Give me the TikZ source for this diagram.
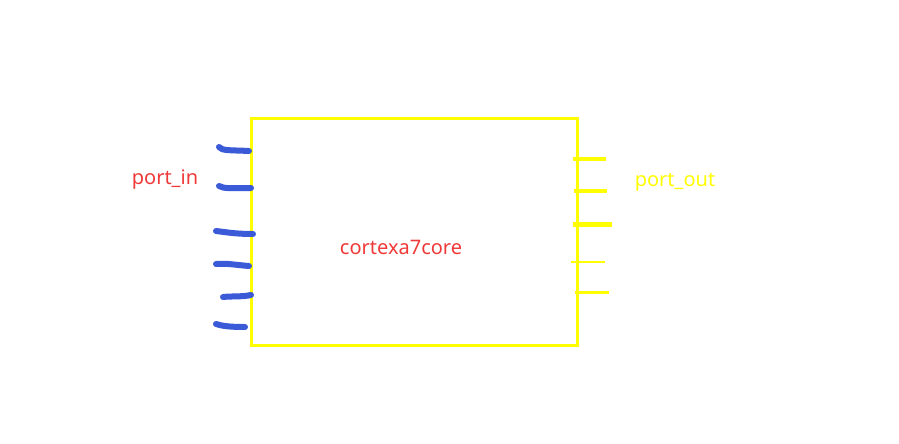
\documentclass[tikz,border=0pt]{standalone}
\usepackage{fontspec}
\setmainfont{Noto Sans}
\definecolor{boxyellow}{HTML}{FFFF00}
\definecolor{labelred}{HTML}{F03A3A}
\definecolor{penblue}{HTML}{3A5AD8}
\begin{document}
\begin{tikzpicture}[x=1pt,y=-1pt,
  core/.style={draw=boxyellow,line width=3pt},
  inport/.style={draw=penblue,line width=6pt,line cap=round},
  outport/.style={draw=boxyellow,line width=#1},
  lbl/.style={font=\fontsize{20}{24}\selectfont,inner sep=0pt}]
\useasboundingbox (0,0) rectangle (899,444);
\fill[white] (0,0) rectangle (899,444);
% core box
\draw[core] (251,118) rectangle (577,345);
\node[lbl,text=labelred] (core) at (401,247) {cortexa7core};
% input ports
\draw[inport] (219,147) .. controls (222,151) and (230,150) .. (249,151);
\draw[inport] (219,186) .. controls (224,189) and (232,188) .. (251,188);
\draw[inport] (216,231) .. controls (225,232) and (235,234) .. (253,234);
\draw[inport] (216,264) .. controls (226,263) and (236,265) .. (249,266);
\draw[inport] (223,297) .. controls (232,296) and (242,297) .. (251,295);
\draw[inport] (216,324) .. controls (222,326) and (230,327) .. (245,327);
\node[lbl,text=labelred] (pin) at (165,180) {port\_in};
% output ports
\draw[outport=3.5pt] (573,159) -- (606,159);
\draw[outport=3.5pt] (574,191) -- (607,191);
\draw[outport=5pt] (573,224) -- (612,224);
\draw[outport=2.5pt] (571,262) -- (605,262);
\draw[outport=3pt] (575,292) -- (609,292);
\node[lbl,text=boxyellow] (pout) at (675,182) {port\_out};
\end{tikzpicture}
\end{document}
